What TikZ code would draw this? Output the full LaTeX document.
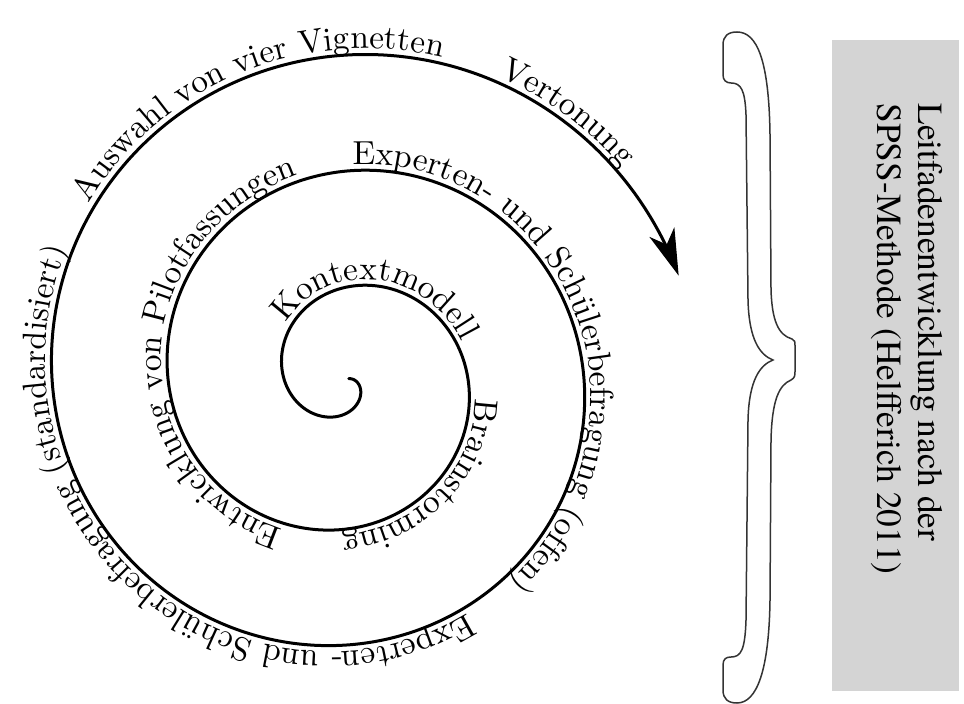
\documentclass[tikz,border=0pt]{standalone}
\usepackage{fontspec}
\newfontfamily\boxfont{TeX Gyre Termes}
\usetikzlibrary{decorations.text,arrows.meta}
\definecolor{boxgray}{RGB}{212,212,212}
\begin{document}
\begin{tikzpicture}[x=0.3pt,y=-0.3pt,
  declare function={sr(\t)=92+0.3222*\t; spx(\t)=347+sr(\t)*sin(\t); spy(\t)=379-sr(\t)*cos(\t);
                    tr(\t)=98+0.3222*\t; tpx(\t)=347+tr(\t)*sin(\t); tpy(\t)=379-tr(\t)*cos(\t);},
  spiralline/.style={line width=0.9pt, line cap=round},
  lbl/.style={decorate, decoration={text along path, text={#1}, text align=center}},
  bracestyle/.style={draw=black!80, line width=0.45pt, fill=white},
  boxstyle/.style={fill=boxgray, inner sep=0pt, minimum width=38.1pt, minimum height=195.3pt, anchor=north west},
  boxtext/.style={rotate=-90, anchor=west, inner sep=0pt, align=left, font=\boxfont\fontsize{10.6}{12.3}\selectfont}
]
\useasboundingbox (0,0) rectangle (964,704);

% spiral
\draw[spiralline, -{Stealth[length=14pt,width=8pt,inset=4pt]}]
  plot[domain=-280:792.7, samples=420, smooth, variable=\t] ({spx(\t)},{spy(\t)});

% labels along the spiral (paths run just outside the line)
\path[lbl={Kontextmodell}] plot[domain=-64:83, samples=100, variable=\t] ({tpx(\t)},{tpy(\t)});
\path[lbl={Brainstorming}] plot[domain=85:193, samples=80, variable=\t] ({tpx(\t)},{tpy(\t)});
\path[lbl={Entwicklung von Pilotfassungen}] plot[domain=188:358, samples=110, variable=\t] ({tpx(\t)},{tpy(\t)});
\path[lbl={Experten- und Schülerbefragung (offen)}] plot[domain=351:510, samples=110, variable=\t] ({tpx(\t)},{tpy(\t)});
\path[lbl={Experten- und Schülerbefragung (standardisiert)}] plot[domain=502:664, samples=110, variable=\t] ({tpx(\t)},{tpy(\t)});
\path[lbl={Auswahl von vier Vignetten}] plot[domain=655:745, samples=70, variable=\t] ({tpx(\t)},{tpy(\t)});
\path[lbl={Vertonung}] plot[domain=739:780, samples=35, variable=\t] ({tpx(\t)},{tpy(\t)});

% brace
\draw[bracestyle] (723,70) -- (723,45)
  .. controls (723,36) and (728,32) .. (737,32)
  .. controls (757,32) and (769,60) .. (770,135)
  -- (771,290)
  .. controls (772,320) and (778,335) .. (792,339)
  .. controls (795,340) and (795,342) .. (795,346)
  -- (795,371)
  .. controls (795,375) and (795,378) .. (791,380)
  .. controls (779,385) and (772,400) .. (771,440)
  -- (770,600)
  .. controls (769,670) and (757,703) .. (737,703)
  .. controls (728,703) and (723,699) .. (723,690)
  -- (723,665)
  .. controls (723,659) and (726,657) .. (731,657)
  .. controls (741,657) and (745,650) .. (746,620)
  -- (748,420)
  .. controls (749,380) and (760,365) .. (773,360)
  .. controls (760,355) and (749,340) .. (748,300)
  -- (746,115)
  .. controls (745,90) and (741,83) .. (731,83)
  .. controls (726,83) and (723,80) .. (723,75)
  -- cycle;

% grey box with text
\node[boxstyle] (box) at (831,39) {};
\node[boxtext] (leittext) at (907,103) {Leitfadenentwicklung nach der\\SPSS-Methode (Helfferich 2011)};
\end{tikzpicture}
\end{document}
